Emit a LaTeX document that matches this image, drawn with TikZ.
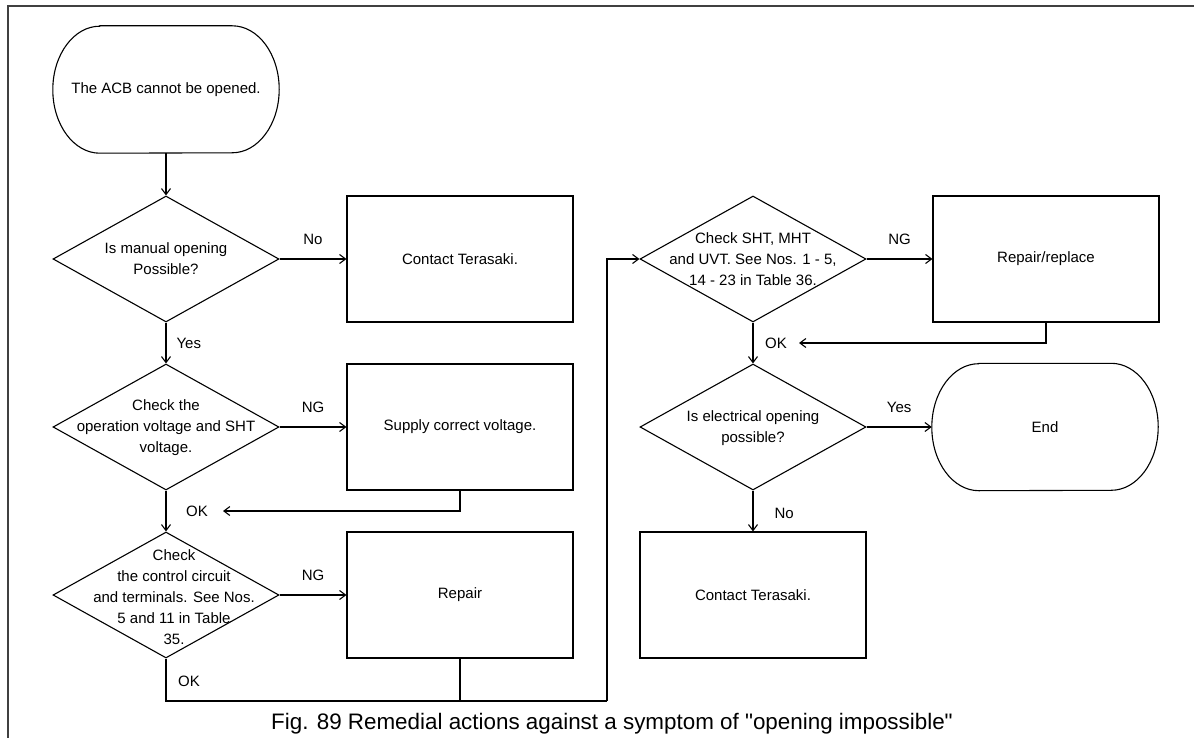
\documentclass[tikz,border=0pt]{standalone}
\usepackage{fontspec}
\setmainfont{Liberation Sans}[Ligatures=TeXOff]
\usetikzlibrary{arrows.meta,shapes.geometric}
\begin{document}
\begin{tikzpicture}[x=1pt,y=-1pt,
  every node/.style={font=\fontsize{15pt}{21pt}\selectfont},
  shapeline/.style={draw=black,line width=1.1pt},
  box/.style={shapeline, rectangle, minimum width=226pt, minimum height=126pt, inner sep=0pt, align=center},
  dia/.style={shapeline, diamond, minimum width=226pt, minimum height=126pt, inner sep=0pt},
  term/.style={rectangle, minimum width=226pt, minimum height=127pt, inner sep=0pt, align=center},
  txt/.style={inner sep=0pt, align=center},
  lbl/.style={inner sep=0pt, anchor=base},
  flow/.style={line width=1.1pt, -{Straight Barb[length=6pt,width=9pt]}},
  wire/.style={line width=1.1pt},
]
\useasboundingbox (0,0) rectangle (1194,738);

% page frame
\draw[line width=2pt, black!75] (1200,6) -- (8,6) -- (8,745);

% terminal outline with elliptical ends
\newcommand{\termoutline}[1]{%
  \draw[shapeline] ([xshift=47pt]#1.north west) -- ([xshift=-47pt]#1.north east)
    arc[start angle=90, end angle=-90, x radius=47pt, y radius=63.5pt]
    -- ([xshift=47pt]#1.south west)
    arc[start angle=270, end angle=90, x radius=47pt, y radius=63.5pt] -- cycle;}

% left column
\node[term] (start) at (166,89.5) {The ACB cannot be opened.};
\termoutline{start}
\node[dia] (d1) at (166,259) {};
\node[txt] (d1t) at (166,259) {Is manual opening\\Possible?};
\node[box] (b1) at (460,259) {Contact Terasaki.};

\node[dia] (d2) at (166,427) {};
\node[txt] (d2t) at (166,428) {Check the\\operation voltage and SHT\\voltage.};
\node[box] (b2) at (460,427) {Supply correct voltage.};

\node[dia] (d3) at (166,595) {};
\node[txt] (d3t) at (174,597) {Check\\the control circuit\\and terminals. See Nos.\\5 and 11 in Table\\35.};
\node[box] (b3) at (460,595) {Repair};

% right column
\node[dia] (d4) at (753,259) {};
\node[txt] (d4t) at (753,259) {Check SHT, MHT\\and UVT. See Nos. 1 - 5,\\14 - 23 in Table 36.};
\node[box] (b4) at (1046,259) {Repair/replace};

\node[dia] (d5) at (753,427) {};
\node[txt] (d5t) at (753,428) {Is electrical opening\\possible?};
\node[term] (fin) at (1045,427) {End};
\termoutline{fin}

\node[box] (b5) at (753,595) {Contact Terasaki.};

% connectors
\draw[flow] (start.south) -- (d1.north);
\draw[flow] (d1.east) -- node[lbl, yshift=15pt] {No} (b1.west);
\draw[flow] (d1.south) -- node[lbl, anchor=base west, xshift=10pt, yshift=-5pt] {Yes} (d2.north);
\draw[flow] (d2.east) -- node[lbl, yshift=15pt] {NG} (b2.west);
\draw[flow] (d2.south) -- (d3.north);
\draw[flow] (d3.east) -- node[lbl, yshift=15pt] {NG} (b3.west);

\coordinate (okA) at (223,511);
\node[lbl] (ok1) at (197,516) {OK};
\draw[flow] (b2.south) |- (okA);

\coordinate (joinL) at (166,701);
\coordinate (joinR) at (607,701);
\node[lbl] (ok2) at (189,686) {OK};
\draw[wire] (d3.south) -- (joinL) -- (joinR);
\draw[wire] (b3.south) -- (b3.south |- joinL);
\draw[flow] (joinR) |- (d4.west);

\draw[flow] (d4.east) -- node[lbl, yshift=15pt] {NG} (b4.west);
\coordinate (okB) at (799,343);
\node[lbl] (ok3) at (776,348) {OK};
\draw[flow] (b4.south) |- (okB);
\draw[flow] (d4.south) -- (d5.north);
\draw[flow] (d5.east) -- node[lbl, yshift=15pt] {Yes} (fin.west);
\draw[flow] (d5.south) -- node[lbl, anchor=base west, xshift=21pt, yshift=-7.5pt] {No} (b5.north);

% caption
\node[lbl, font=\fontsize{22.4pt}{26pt}\selectfont] (cap) at (612,729)
  {Fig. 89 Remedial actions against a symptom of "opening impossible"};
\end{tikzpicture}
\end{document}
